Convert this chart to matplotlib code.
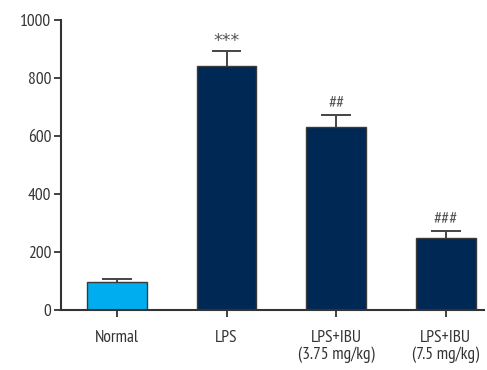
import matplotlib
matplotlib.use("Agg")
import matplotlib.pyplot as plt

groups = ["Normal", "LPS", "LPS+IBU\n(3.75 mg/kg)", "LPS+IBU\n(7.5 mg/kg)"]
means = [97, 842, 631, 248]
errors = [11, 52, 41, 24]
marks = ["", "***", "##", "###"]
yticks = [0, 200, 400, 600, 800, 1000]

plt.rcParams["font.family"] = ["PT Sans Narrow", "DejaVu Sans"]

text_color = "#333333"
bar_colors = ["#00AEEF", "#002855", "#002855", "#002855"]
bar_width = 0.545
cap_half = 0.135

fig = plt.figure(figsize=(4.87, 3.70), dpi=100)
ax = fig.add_axes([0.1253, 0.162, 0.869, 0.784])

x = list(range(len(groups)))
tops = [m + e for m, e in zip(means, errors)]

# upward-only error bars, drawn behind the bars
ax.vlines(x, means, tops, color="#444444", linewidth=1.4, zorder=1)
ax.hlines(tops, [xi - cap_half for xi in x], [xi + cap_half for xi in x],
          color="#444444", linewidth=1.4, zorder=1)
ax.bar(x, means, width=bar_width, color=bar_colors, edgecolor="#3a3a3a",
       linewidth=1.0, zorder=2)

for xi, t, s in zip(x, tops, marks):
    if not s:
        continue
    if "*" in s:
        ax.text(xi, t + 2, s, ha="center", va="bottom", fontsize=12.5,
                family="DejaVu Sans", color="#555555")
    else:
        ax.text(xi, t + 10, s, ha="center", va="bottom", fontsize=13, color="#555555")

ax.set_xlim(-0.51, 3.35)
ax.set_ylim(0, 1000)
ax.set_yticks(yticks)
ax.set_xticks(x)
ax.set_xticklabels(groups, fontsize=12.5, color=text_color, linespacing=1.05)
ax.tick_params(axis="y", labelsize=12.5, colors=text_color, direction="out", length=5, width=1.3, pad=2)
ax.tick_params(axis="x", direction="out", length=5, width=1.3, pad=9, colors=text_color)

for side in ("top", "right"):
    ax.spines[side].set_visible(False)
for side in ("left", "bottom"):
    ax.spines[side].set_linewidth(1.5)
    ax.spines[side].set_color("#333333")

fig.savefig("out.png", dpi=100)
